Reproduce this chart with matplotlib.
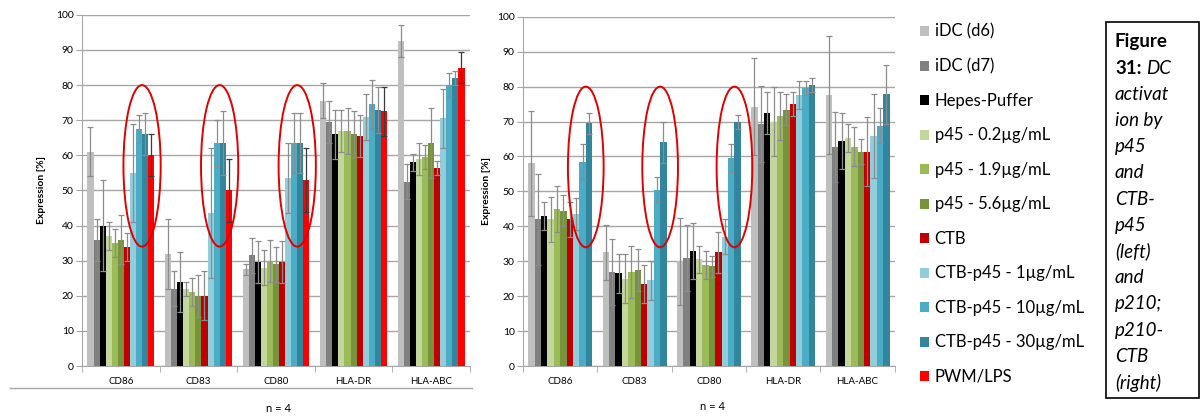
import numpy as np
import matplotlib
matplotlib.use("Agg")
from matplotlib import pyplot as plt
from matplotlib.patches import Ellipse, Rectangle
from matplotlib.transforms import ScaledTranslation

plt.rcParams['font.family'] = ['Lato', 'DejaVu Sans']

markers = ["CD86", "CD83", "CD80", "HLA-DR", "HLA-ABC"]

series_names = ["iDC (d6)", "iDC (d7)", "Hepes-Puffer",
                "p45 - 0.2\u00b5g/mL", "p45 - 1.9\u00b5g/mL", "p45 - 5.6\u00b5g/mL",
                "CTB", "CTB-p45 - 1\u00b5g/mL", "CTB-p45 - 10\u00b5g/mL",
                "CTB-p45 - 30\u00b5g/mL", "PWM/LPS"]
series_colors = ["#bfbfbf", "#808080", "#000000",
                 "#c3d69b", "#9bbb59", "#77933c",
                 "#c00000", "#92cddc", "#4bacc6", "#31859c", "#ff0000"]

# left chart (p45 / CTB-p45), rows = series, cols = markers
left_vals = [
    [61.0, 32.0, 27.5, 75.5, 92.5],
    [36.0, 22.0, 31.5, 69.5, 52.5],
    [40.0, 24.0, 29.5, 66.0, 58.0],
    [37.0, 22.0, 28.0, 67.0, 59.0],
    [35.0, 21.0, 30.0, 67.0, 59.5],
    [36.0, 20.0, 29.0, 66.0, 63.5],
    [34.0, 20.0, 29.5, 65.5, 56.5],
    [55.0, 43.5, 53.5, 71.0, 70.5],
    [67.5, 63.5, 63.5, 74.5, 80.0],
    [66.0, 63.5, 63.5, 73.0, 82.0],
    [60.0, 50.0, 53.0, 72.5, 85.0],
]
left_err = [
    [7.0, 10.0, 1.5, 5.0, 4.5],
    [6.0, 5.0, 5.0, 6.0, 5.0],
    [13.0, 8.5, 6.0, 7.0, 2.5],
    [4.0, 2.0, 5.0, 6.0, 4.5],
    [4.0, 4.0, 6.0, 6.5, 3.5],
    [7.0, 6.0, 5.0, 6.5, 10.0],
    [4.0, 7.0, 6.0, 6.0, 2.0],
    [14.0, 18.5, 10.0, 6.5, 8.5],
    [4.0, 6.5, 8.5, 7.0, 3.5],
    [6.0, 9.0, 8.5, 6.5, 2.0],
    [6.0, 9.0, 9.0, 7.0, 4.5],
]

# right chart (p210 / p210-CTB), no PWM/LPS
right_vals = [
    [58.0, 32.5, 30.0, 74.3, 77.6],
    [42.0, 27.0, 31.0, 69.3, 62.8],
    [43.0, 26.5, 33.0, 72.4, 64.5],
    [42.0, 25.0, 30.5, 70.0, 65.3],
    [45.0, 27.0, 29.0, 71.6, 62.8],
    [44.5, 27.5, 28.5, 73.4, 61.4],
    [42.0, 23.5, 32.5, 75.0, 61.4],
    [43.5, 24.5, 37.0, 77.5, 65.9],
    [58.5, 50.5, 59.5, 79.6, 68.8],
    [69.5, 64.0, 70.0, 80.5, 77.8],
]
right_err = [
    [15.0, 8.0, 12.5, 14.0, 17.0],
    [13.0, 9.5, 9.5, 11.0, 10.0],
    [4.0, 5.5, 8.0, 6.0, 8.0],
    [6.5, 7.0, 4.0, 10.0, 4.0],
    [6.5, 7.5, 4.0, 7.0, 5.5],
    [4.5, 6.0, 3.0, 4.5, 3.5],
    [5.0, 5.5, 6.0, 3.5, 10.0],
    [4.5, 5.5, 5.0, 4.0, 12.0],
    [5.0, 3.5, 4.0, 2.0, 5.0],
    [3.0, 6.0, 2.0, 2.0, 8.5],
]

# which series get circled, and in which marker groups
left_circled = [7, 8, 9, 10]
right_circled = [8, 9]
circled_groups = [0, 1, 2]
circle_y = (34, 80)

fig = plt.figure(figsize=(12.01, 4.17), dpi=100)


def bar_chart(ax, vals, errs, circled):
    n = len(vals)
    group_w = 0.86
    w = group_w / n
    centers = np.arange(len(markers)) + 0.5
    offsets = (np.arange(n) - (n - 1) / 2) * w
    for i in range(n):
        ecol = "#3a3a3a" if series_names[i] == "PWM/LPS" else "#8c8c8c"
        ax.bar(centers + offsets[i], vals[i], width=w, color=series_colors[i],
               yerr=errs[i], ecolor=ecol, capsize=2,
               error_kw={"elinewidth": 0.9, "capthick": 0.9}, zorder=3,
               label=series_names[i])
    # red ellipses around the circled bars
    for g in circled_groups:
        cx = centers[g] + offsets[circled].mean()
        ax.add_patch(Ellipse((cx, np.mean(circle_y)), 0.48, circle_y[1] - circle_y[0],
                             fill=False, edgecolor="#e00000", lw=1.4, zorder=5))

    ax.set_xlim(0, len(markers))
    ax.set_ylim(0, 100)
    ax.set_yticks(np.arange(0, 101, 10))
    ax.yaxis.grid(True, color="#a6a6a6", lw=1, zorder=0)
    ax.set_xticks(centers)
    ax.set_xticklabels(markers, fontsize=7)
    ax.tick_params(axis="x", length=0, pad=8)
    ax.set_xticks(np.arange(len(markers) + 1), minor=True)
    ax.tick_params(axis="x", which="minor", length=4, color="#a6a6a6")
    ax.tick_params(axis="y", labelsize=7.5, length=4, color="#a6a6a6", pad=2)
    for s in ["top", "right"]:
        ax.spines[s].set_visible(False)
    for s in ["left", "bottom"]:
        ax.spines[s].set_color("#a6a6a6")
    ax.set_ylabel("Expression [%]", fontsize=7.5, fontweight="bold", labelpad=7)


ax1 = fig.add_axes([0.0683, 0.1223, 0.323, 0.842])
bar_chart(ax1, left_vals, left_err, left_circled)
ax2 = fig.add_axes([0.4355, 0.1223, 0.3095, 0.8375])
bar_chart(ax2, right_vals, right_err, right_circled)
ax2.yaxis.labelpad = 4

# separator under left chart and n labels
fig.add_artist(plt.Line2D([10 / 1201, 472 / 1201], [1 - 388 / 417] * 2, color="#a6a6a6", lw=1))
fig.text(278 / 1201, 1 - 408 / 417, "n = 4", fontsize=8, ha="center", va="center")
fig.text(713 / 1201, 1 - 406 / 417, "n = 4", fontsize=8, ha="center", va="center")

handles, labels = ax1.get_legend_handles_labels()
fig.legend(handles, labels, loc="upper left", bbox_to_anchor=(913 / 1201, 1 - 17 / 417),
           frameon=False, fontsize=12, handlelength=0.55, handleheight=0.55,
           handletextpad=0.35, labelspacing=1.11, borderaxespad=0)

# caption box
fig.add_artist(Rectangle((1106 / 1201, 1 - 398 / 417), 93 / 1201, 376 / 417,
                         transform=fig.transFigure, fill=False, edgecolor="black", lw=1.2))
caption = ["Figure", "31:", "activat", "ion by", "p45", "and", "CTB-", "p45",
           "(left)", "and", "p210;", "p210-", "CTB", "(right)"]
x0 = 1115 / 1201
for k, line in enumerate(caption):
    y = 1 - (42 + k * 26.2) / 417
    if k == 0:
        fig.text(x0, y, line, fontsize=13.5, fontweight="bold", va="center")
    elif k == 1:
        t = fig.text(x0, y, line, fontsize=13.5, fontweight="bold", va="center")
        fig.text(x0, y, "DC", fontsize=13.5, style="italic", va="center",
                 transform=t.get_transform() + ScaledTranslation(0.31, 0, fig.dpi_scale_trans))
    else:
        fig.text(x0, y, line, fontsize=13.5, style="italic", va="center")

fig.savefig("out.png", dpi=100)
